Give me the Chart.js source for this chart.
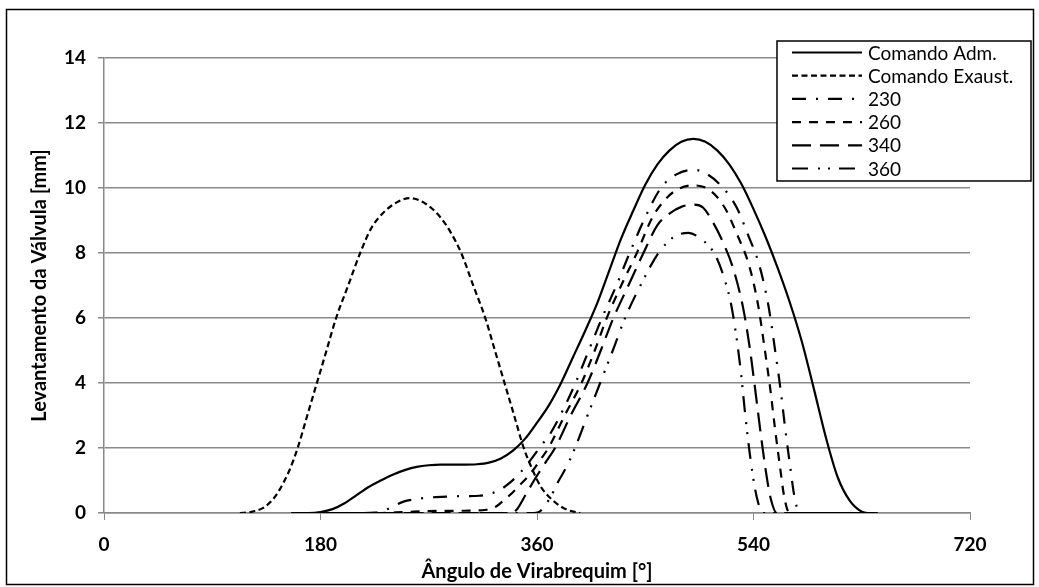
<!DOCTYPE html>
<html>
<head>
<meta charset="utf-8">
<script src="https://cdn.jsdelivr.net/npm/chart.js"></script>
<style>
  html, body { margin: 0; padding: 0; background: #fff; }
  #caixa { width: 1039px; height: 587px; position: relative; }
</style>
</head>
<body>
<div id="caixa"><canvas id="grafico"></canvas></div>
<script>
// eixo x: angulo de virabrequim [graus], eixo y: levantamento [mm]
var xTicks = [0, 180, 360, 540, 720];
var yTicks = [0, 2, 4, 6, 8, 10, 12, 14];

var admAng  = [156, 170, 180, 190, 200, 210, 220, 230, 240, 250, 260, 270, 280, 300, 310, 320, 330, 340, 350, 360, 370, 380, 390, 400, 410, 420, 430, 440, 450, 460, 470, 480, 490, 500, 510, 520, 530, 540, 550, 560, 570, 580, 590, 600, 610, 620, 630, 635, 643];
var admLift = [0, 0, 0.03, 0.12, 0.3, 0.55, 0.8, 1.0, 1.18, 1.32, 1.42, 1.47, 1.49, 1.49, 1.5, 1.55, 1.68, 1.92, 2.28, 2.78, 3.32, 4.0, 4.8, 5.6, 6.45, 7.45, 8.45, 9.3, 10.1, 10.72, 11.15, 11.42, 11.51, 11.42, 11.15, 10.72, 10.12, 9.35, 8.5, 7.55, 6.5, 5.3, 3.85, 2.35, 1.1, 0.38, 0.04, 0, 0];

var excAng  = [113, 122, 132, 140, 146, 154, 161, 169, 177, 185, 193, 203, 213, 222, 232, 243, 254, 266, 279, 288, 297, 307, 317, 325, 333, 341, 349, 356, 363, 374, 385, 396];
var excLift = [0, 0.03, 0.15, 0.4, 0.72, 1.3, 2.0, 3.0, 4.0, 5.0, 6.0, 7.0, 8.0, 8.75, 9.23, 9.55, 9.69, 9.55, 9.13, 8.65, 8.0, 7.0, 6.0, 5.0, 4.0, 3.0, 2.0, 1.35, 0.82, 0.36, 0.1, 0];

var c230Ang  = [156, 215, 225, 232, 240, 249, 258, 266, 276, 288, 300, 312, 322, 330, 338, 346, 354, 362, 372, 382, 392, 403, 414, 426, 437, 450, 463, 476, 490, 500, 516, 526, 535, 545, 552.5, 558, 562.5, 566.5, 570.5, 574, 578.5, 643];
var c230Lift = [0, 0, 0.01, 0.06, 0.2, 0.35, 0.42, 0.46, 0.49, 0.51, 0.52, 0.53, 0.6, 0.73, 0.95, 1.24, 1.6, 2.0, 2.5, 3.2, 4.0, 5.0, 6.0, 7.0, 8.0, 9.1, 10.0, 10.42, 10.56, 10.46, 9.95, 9.4, 8.6, 7.6, 6.36, 5.0, 3.8, 2.56, 1.43, 0.51, 0, 0];

var c260Ang  = [156, 225, 250, 270, 300, 318, 326, 333, 340, 346, 352, 357, 363, 369.5, 383, 397, 408, 418, 430, 443, 456, 468, 478, 490, 503, 516, 526, 536.5, 544, 549.5, 554, 558, 562, 565.5, 570, 643];
var c260Lift = [0, 0, 0.03, 0.06, 0.07, 0.1, 0.2, 0.41, 0.64, 0.87, 1.1, 1.33, 1.65, 2.0, 3.0, 4.0, 5.0, 6.0, 7.0, 8.0, 9.1, 9.7, 9.98, 10.08, 9.95, 9.4, 8.6, 7.6, 6.36, 5.0, 3.8, 2.56, 1.43, 0.51, 0, 0];

var c340Ang  = [156, 338, 343, 351.4, 359.7, 367, 375, 388, 402, 413, 423.5, 436, 448.5, 460, 470.7, 480, 490, 498, 506.7, 515, 523.3, 531.7, 537.2, 541.4, 545.6, 549.7, 553.9, 559.5, 643];
var c340Lift = [0, 0, 0.1, 0.62, 1.13, 1.55, 2.0, 3.0, 4.0, 5.0, 6.0, 7.0, 8.0, 8.85, 9.23, 9.42, 9.49, 9.4, 8.92, 8.3, 7.5, 6.25, 5.0, 3.8, 2.56, 1.43, 0.51, 0, 0];

var c360Ang  = [156, 357, 361, 370.8, 377.7, 384.7, 391.6, 402, 412.5, 423, 433.2, 446, 461, 474, 486, 496, 502, 508, 515, 522, 529, 533.2, 537, 541, 544, 547, 643];
var c360Lift = [0, 0, 0.02, 0.46, 0.97, 1.43, 2.0, 3.0, 4.0, 5.0, 6.0, 7.0, 8.0, 8.5, 8.62, 8.45, 8.25, 7.95, 7.3, 6.3, 4.5, 3.0, 1.8, 0.8, 0.3, 0, 0];

function pares(ang, lift) {
    return ang.map(function(a, i) { return {x: a, y: lift[i]}; });
}

function serie(label, ang, lift, dash) {
    return {
        label: label,
        data: pares(ang, lift),
        borderColor: '#000',
        borderWidth: 2.2,
        borderDash: dash,
        pointRadius: 0,
        fill: false,
        cubicInterpolationMode: 'monotone'
    };
}

var fonte = "Lato, 'DejaVu Sans', sans-serif";
var cinza = '#898989';

// caixa da legenda (igual ao Excel, por cima das linhas de grade)
var legendaCaixa = {
    id: 'legendaCaixa',
    afterDraw: function(chart) {
        var ctx = chart.ctx;
        var x0 = 777, y0 = 41, w = 254, h = 140;
        ctx.save();
        ctx.fillStyle = '#fff';
        ctx.fillRect(x0, y0, w, h);
        ctx.strokeStyle = '#000';
        ctx.lineWidth = 1.5;
        ctx.strokeRect(x0, y0, w, h);
        ctx.font = '19px ' + fonte;
        ctx.textBaseline = 'middle';
        ctx.fillStyle = '#000';
        chart.data.datasets.forEach(function(ds, i) {
            var y = y0 + 11.5 + i * 23.2;
            ctx.beginPath();
            ctx.setLineDash(ds.borderDash);
            ctx.lineWidth = 2.2;
            ctx.moveTo(792, y);
            ctx.lineTo(862, y);
            ctx.stroke();
            ctx.setLineDash([]);
            ctx.fillText(ds.label, 868, y + 1);
        });
        // moldura externa
        ctx.lineWidth = 1.5;
        ctx.strokeRect(6.5, 9.5, 1027, 575);
        ctx.restore();
    }
};

document.addEventListener("DOMContentLoaded", function() {
    var ctx = document.getElementById('grafico').getContext('2d');
    var grafico = new Chart(ctx, {
        type: 'line',
        data: {
            datasets: [
                serie('Comando Adm.', admAng, admLift, []),
                serie('Comando Exaust.', excAng, excLift, [6, 3.5]),
                serie('230', c230Ang, c230Lift, [14, 10, 2, 10]),
                serie('260', c260Ang, c260Lift, [9, 8]),
                serie('340', c340Ang, c340Lift, [19, 9]),
                serie('360', c360Ang, c360Lift, [16, 10, 2, 8, 2, 9])
            ]
        },
        options: {
            responsive: true,
            maintainAspectRatio: false,
            animation: false,
            layout: { padding: { left: 0, right: 69, top: 58, bottom: 0 } },
            scales: {
                x: {
                    type: 'linear',
                    min: xTicks[0],
                    max: xTicks[xTicks.length - 1],
                    afterBuildTicks: function(scale) {
                        scale.ticks = xTicks.map(function(v) { return {value: v}; });
                    },
                    afterFit: function(scale) { scale.height = 74; },
                    grid: { drawOnChartArea: false, drawTicks: true, tickLength: 7, color: cinza },
                    border: { color: cinza, width: 1.5 },
                    ticks: { color: '#000', padding: 13, maxRotation: 0, font: { family: fonte, size: 19, weight: 'bold' } },
                    title: {
                        display: true,
                        text: 'Ângulo de Virabrequim [°]',
                        color: '#000',
                        padding: { top: 0, bottom: 3 },
                        font: { family: fonte, size: 20, weight: 'bold' }
                    }
                },
                y: {
                    min: yTicks[0],
                    max: yTicks[yTicks.length - 1],
                    afterBuildTicks: function(scale) {
                        scale.ticks = yTicks.map(function(v) { return {value: v}; });
                    },
                    afterFit: function(scale) { scale.width = 104; },
                    grid: { color: cinza, lineWidth: 1.5, drawTicks: true, tickLength: 6 },
                    border: { color: cinza, width: 1.5 },
                    ticks: { color: '#000', padding: 12, font: { family: fonte, size: 19, weight: 'bold' } },
                    title: {
                        display: true,
                        text: 'Levantamento da Válvula [mm]',
                        color: '#000',
                        padding: { top: 28, bottom: 0 },
                        font: { family: fonte, size: 20, weight: 'bold' }
                    }
                }
            },
            plugins: {
                legend: { display: false },
                tooltip: { enabled: false }
            }
        },
        plugins: [legendaCaixa]
    });
});
</script>
</body>
</html>
